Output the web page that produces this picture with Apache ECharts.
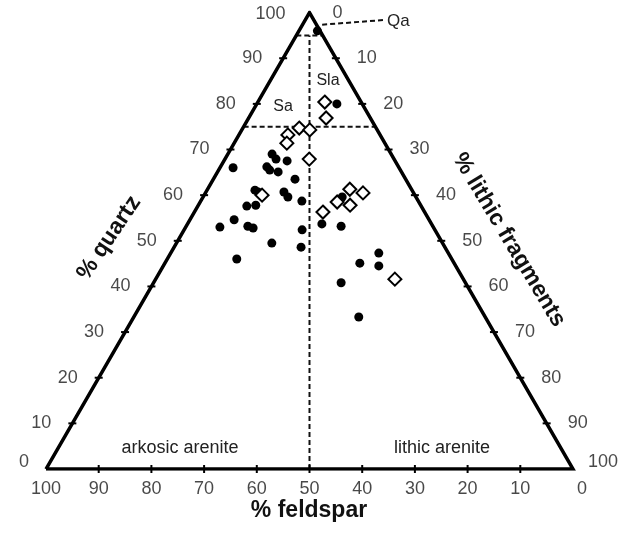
<!DOCTYPE html>
<html>
<head>
<meta charset="utf-8">
<script src="https://cdn.jsdelivr.net/npm/echarts@6/dist/echarts.min.js"></script>
<style>
  html, body { margin: 0; background: #fff; }
  #chart { width: 635px; height: 533px; }
</style>
</head>
<body>
<div id="chart"></div>
<script>
// filled circles: % quartz, % feldspar, % lithic fragments
const dotQ = [96, 80, 69, 67.9, 67.5, 66.2, 65.5, 65.1, 66, 63.5, 61.1, 60.7, 60.7, 59.6, 58.7, 57.6, 57.8,
  53, 54.6, 53.2, 52.8, 49.5, 52.4, 48.6, 46, 53.7, 53.2, 59.6, 47.3, 44.5, 45.1, 40.8, 33.3];
const dotF = [0.5, 4.8, 22.6, 22.4, 20.5, 25, 24.8, 23.4, 31.5, 21, 29.8, 29.4, 24.5, 24.3, 22.1, 33.1, 31.3,
  40.5, 37, 35.1, 34.3, 32.4, 25.2, 27.3, 40.8, 20.8, 17.4, 14, 13.2, 14.6, 17.9, 23.6, 24];
const dotL = [3.5, 15.2, 8.4, 9.7, 12, 8.8, 9.7, 11.5, 2.5, 15.5, 9.1, 9.9, 14.8, 16.1, 19.2, 9.3, 10.9,
  6.5, 8.4, 11.7, 12.9, 18.1, 22.4, 24.1, 13.2, 25.5, 29.4, 26.4, 39.5, 40.9, 37, 35.6, 42.7];

// open diamonds
const diaQ = [80.4, 76.9, 74.7, 74.3, 73.2, 71.4, 67.9, 60, 56.3, 58.5, 61.3, 57.8, 60.5, 41.6];
const diaF = [6.9, 8.4, 14.6, 12.8, 17.5, 18.6, 16.1, 29, 19.3, 15.5, 11.7, 13.4, 9.6, 13];
const diaL = [12.7, 14.7, 10.7, 12.9, 9.3, 10, 16, 11, 24.4, 26, 27, 28.8, 29.9, 45.4];

const tickValues = [0, 10, 20, 30, 40, 50, 60, 70, 80, 90, 100];

const SQ = Math.sqrt(3) / 2;
// ternary -> cartesian (feldspar corner at origin, lithic corner at x=100)
function tern(q, f, l) {
  const s = q + f + l;
  q = q / s * 100; l = l / s * 100;
  return [l + q / 2, q * SQ];
}

const dots = dotQ.map((q, i) => tern(q, dotF[i], dotL[i]));
const diamonds = diaQ.map((q, i) => tern(q, diaF[i], diaL[i]));

const ticks = [];
const leftLabels = [], rightLabels = [], bottomLabels = [];
tickValues.forEach(v => {
  const pl = tern(v, 100 - v, 0);      // quartz on left edge
  const pr = tern(100 - v, 0, v);      // lithic on right edge
  const pb = tern(0, v, 100 - v);      // feldspar on bottom
  if (v > 0 && v < 100) {
    ticks.push([pl[0], pl[1], 0], [pr[0], pr[1], 0], [pb[0], pb[1], 1]);
  }
  const l = { value: pl, name: String(v) };
  const r = { value: pr, name: String(v) };
  const b = { value: pb, name: String(v) };
  if (v === 0) {
    l.label = { offset: [4, -7] };
    r.label = { offset: [2, 0] };
    b.label = { offset: [9, 0] };
  }
  if (v === 100) {
    l.label = { offset: [-3, 1] };
    r.label = { offset: [-6, -7] };
  }
  leftLabels.push(l); rightLabels.push(r); bottomLabels.push(b);
});

const lineBase = { type: 'line', symbol: 'none', silent: true, z: 2 };
const dashStyle = { color: '#111', width: 2, type: [5, 3] };
const tickFont = { show: true, formatter: '{b}', fontSize: 18, color: '#1a1a1a', fontFamily: 'Liberation Sans, Arial' };

const chart = echarts.init(document.getElementById('chart'));
chart.setOption({
  animation: false,
  backgroundColor: '#fff',
  grid: { left: 46, top: 12.6, width: 527, height: 456.4 },
  xAxis: { type: 'value', min: 0, max: 100, show: false },
  yAxis: { type: 'value', min: 0, max: 100 * SQ, show: false },
  graphic: [
    { type: 'text', x: 109, y: 238, rotation: 56 * Math.PI / 180,
      style: { text: '% quartz', font: 'bold 23px Liberation Sans, Arial', fill: '#111', textAlign: 'center', textVerticalAlign: 'middle' } },
    { type: 'text', x: 509, y: 240, rotation: -59 * Math.PI / 180,
      style: { text: '% lithic fragments', font: 'bold 23px Liberation Sans, Arial', fill: '#111', textAlign: 'center', textVerticalAlign: 'middle' } },
    { type: 'text', x: 309, y: 511,
      style: { text: '% feldspar', font: 'bold 23px Liberation Sans, Arial', fill: '#111', textAlign: 'center', textVerticalAlign: 'middle' } },
    { type: 'text', x: 180, y: 448,
      style: { text: 'arkosic arenite', font: '18px Liberation Sans, Arial', fill: '#222', textAlign: 'center', textVerticalAlign: 'middle' } },
    { type: 'text', x: 442, y: 448,
      style: { text: 'lithic arenite', font: '18px Liberation Sans, Arial', fill: '#222', textAlign: 'center', textVerticalAlign: 'middle' } },
    { type: 'text', x: 328, y: 81,
      style: { text: 'Sla', font: '16px Liberation Sans, Arial', fill: '#222', textAlign: 'center', textVerticalAlign: 'middle' } },
    { type: 'text', x: 283, y: 107,
      style: { text: 'Sa', font: '16px Liberation Sans, Arial', fill: '#222', textAlign: 'center', textVerticalAlign: 'middle' } },
    { type: 'text', x: 387, y: 21,
      style: { text: 'Qa', font: '17px Liberation Sans, Arial', fill: '#222', textAlign: 'left', textVerticalAlign: 'middle' } }
  ],
  series: [
    Object.assign({}, lineBase, {
      data: [tern(0, 100, 0), tern(0, 0, 100), tern(100, 0, 0), tern(0, 100, 0)],
      lineStyle: { color: '#000', width: 3.5, join: 'miter' }, z: 3
    }),
    Object.assign({}, lineBase, { data: [tern(75, 25, 0), tern(75, 0, 25)], lineStyle: dashStyle }),
    Object.assign({}, lineBase, { data: [tern(95, 5, 0), tern(95, 0, 5)], lineStyle: dashStyle }),
    Object.assign({}, lineBase, { data: [tern(0, 50, 50), tern(95, 2.5, 2.5)], lineStyle: dashStyle }),
    Object.assign({}, lineBase, { data: [[52.4, 84.3], [64.0, 85.2]], lineStyle: dashStyle }),
    {
      type: 'custom', silent: true, z: 4,
      data: ticks,
      renderItem: (params, api) => {
        const p = api.coord([api.value(0), api.value(1)]);
        const horiz = api.value(2) === 0;
        return {
          type: 'line',
          shape: horiz ? { x1: p[0] - 4, y1: p[1], x2: p[0] + 4, y2: p[1] }
                       : { x1: p[0], y1: p[1] - 4, x2: p[0], y2: p[1] + 4 },
          style: { stroke: '#000', lineWidth: 2 }
        };
      }
    },
    { type: 'scatter', symbolSize: 0, silent: true, data: leftLabels,
      label: Object.assign({ position: 'left', distance: 21 }, tickFont) },
    { type: 'scatter', symbolSize: 0, silent: true, data: rightLabels,
      label: Object.assign({ position: 'right', distance: 21 }, tickFont) },
    { type: 'scatter', symbolSize: 0, silent: true, data: bottomLabels,
      label: Object.assign({ position: 'bottom', distance: 11 }, tickFont) },
    { type: 'scatter', name: 'circles', symbol: 'circle', symbolSize: 9, z: 5,
      itemStyle: { color: '#000', opacity: 1 }, data: dots },
    { type: 'scatter', name: 'diamonds', symbol: 'diamond', symbolSize: 13, z: 6,
      itemStyle: { color: '#fff', borderColor: '#000', borderWidth: 2, opacity: 1 }, data: diamonds }
  ]
});
</script>
</body>
</html>
